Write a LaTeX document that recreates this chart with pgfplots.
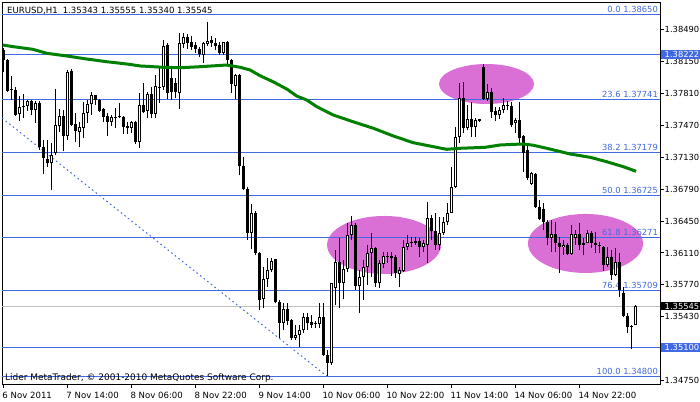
\documentclass[border=0pt]{standalone}
\usepackage{fontspec}
\setmainfont{DejaVu Sans}
\usepackage{pgfplots}
\usepackage{pgfplotstable}
\pgfplotsset{compat=1.18}

\definecolor{fibblue}{RGB}{65,105,225}
\definecolor{ellpink}{RGB}{218,112,214}
\definecolor{magreen}{RGB}{0,128,0}
\definecolor{bidgray}{RGB}{192,192,192}
\newcommand{\mtfont}{\fontsize{8.6}{10}\selectfont}
\newcommand{\scalefont}{\fontsize{8.4}{10}\selectfont}

% EURUSD H1 candles, bar index from 6 Nov 22:00
\pgfplotstableread{
i O H L C
0 1.38270 1.38291 1.38036 1.38164
1 1.38164 1.38174 1.37823 1.37834
2 1.37844 1.37993 1.37738 1.37855
3 1.37844 1.37876 1.37567 1.37578
4 1.37589 1.37780 1.37514 1.37663
5 1.37663 1.37802 1.37546 1.37674
6 1.37674 1.37738 1.37621 1.37727
7 1.37727 1.37738 1.37578 1.37631
8 1.37631 1.37727 1.37493 1.37706
9 1.37706 1.37727 1.37206 1.37238
10 1.37238 1.37312 1.36950 1.37121
11 1.37110 1.37312 1.37025 1.37067
12 1.37067 1.37280 1.36780 1.37153
13 1.37174 1.37855 1.37153 1.37472
14 1.37461 1.37642 1.37397 1.37567
15 1.37567 1.37631 1.37195 1.37355
16 1.37355 1.38057 1.37312 1.38036
17 1.38046 1.38068 1.37461 1.37472
18 1.37482 1.37600 1.37291 1.37408
19 1.37397 1.37504 1.37238 1.37450
20 1.37440 1.37717 1.37333 1.37600
21 1.37600 1.37738 1.37493 1.37695
22 1.37695 1.37823 1.37578 1.37791
23 1.37791 1.37791 1.37685 1.37738
24 1.37738 1.37748 1.37610 1.37621
25 1.37642 1.37653 1.37504 1.37557
26 1.37567 1.37600 1.37355 1.37504
27 1.37504 1.37578 1.37461 1.37557
28 1.37557 1.37653 1.37440 1.37546
29 1.37557 1.37706 1.37546 1.37567
30 1.37557 1.37567 1.37376 1.37450
31 1.37461 1.37504 1.37376 1.37440
32 1.37440 1.37514 1.37387 1.37504
33 1.37504 1.37514 1.37270 1.37291
34 1.37291 1.37812 1.37227 1.37685
35 1.37685 1.37919 1.37600 1.37610
36 1.37621 1.37823 1.37546 1.37802
37 1.37802 1.37876 1.37546 1.37589
38 1.37589 1.38004 1.37546 1.37887
39 1.37876 1.38089 1.37706 1.37866
40 1.37876 1.38376 1.37844 1.38313
41 1.38323 1.38344 1.37748 1.37812
42 1.37972 1.38078 1.37738 1.37823
43 1.37919 1.37972 1.37759 1.37823
44 1.37812 1.38451 1.37642 1.38344
45 1.38334 1.38451 1.38291 1.38408
46 1.38408 1.38440 1.38280 1.38344
47 1.38355 1.38419 1.38270 1.38302
48 1.38323 1.38355 1.38238 1.38280
49 1.38280 1.38302 1.38195 1.38227
50 1.38217 1.38355 1.38132 1.38344
51 1.38334 1.38568 1.38313 1.38366
52 1.38376 1.38419 1.38302 1.38344
53 1.38344 1.38398 1.38270 1.38313
54 1.38323 1.38355 1.38217 1.38238
55 1.38238 1.38355 1.38217 1.38355
56 1.38355 1.38366 1.38121 1.38164
57 1.38164 1.38174 1.37812 1.37908
58 1.37887 1.38014 1.37748 1.38004
59 1.38004 1.38014 1.36940 1.37035
60 1.37035 1.37131 1.36780 1.36791
61 1.36791 1.36812 1.36248 1.36322
62 1.36322 1.36631 1.36152 1.36535
63 1.36535 1.36557 1.36088 1.36110
64 1.36110 1.36120 1.35503 1.35609
65 1.35620 1.35961 1.35524 1.35833
66 1.35833 1.36056 1.35748 1.35929
67 1.35929 1.36056 1.35907 1.36024
68 1.36046 1.36046 1.35577 1.35588
69 1.35588 1.35609 1.35205 1.35365
70 1.35365 1.35577 1.35290 1.35514
71 1.35514 1.35577 1.35343 1.35386
72 1.35397 1.35407 1.35184 1.35205
73 1.35205 1.35343 1.35184 1.35237
74 1.35237 1.35343 1.35109 1.35290
75 1.35290 1.35471 1.35258 1.35429
76 1.35429 1.35471 1.35290 1.35365
77 1.35375 1.35450 1.35311 1.35343
78 1.35365 1.35386 1.35311 1.35354
79 1.35354 1.35577 1.35311 1.35429
80 1.35429 1.35577 1.35013 1.35024
81 1.35024 1.35077 1.34805 1.34939
82 1.34939 1.35790 1.34918 1.35790
83 1.35737 1.36141 1.35556 1.36014
84 1.36014 1.36269 1.35524 1.35790
85 1.35790 1.36035 1.35620 1.35939
86 1.35939 1.36429 1.35907 1.36301
87 1.36301 1.36503 1.36248 1.36408
88 1.36408 1.36429 1.35716 1.35758
89 1.35758 1.35929 1.35471 1.35854
90 1.35854 1.36035 1.35609 1.35961
91 1.35961 1.36195 1.35769 1.36110
92 1.36110 1.36322 1.35854 1.36163
93 1.36163 1.36173 1.35748 1.35790
94 1.35790 1.36035 1.35737 1.36003
95 1.35993 1.36120 1.35950 1.36078
96 1.36078 1.36120 1.36003 1.36067
97 1.36078 1.36120 1.35865 1.36056
98 1.36067 1.36088 1.35844 1.35897
99 1.35886 1.35961 1.35748 1.35929
100 1.35918 1.36248 1.35907 1.36173
101 1.36173 1.36301 1.36141 1.36216
102 1.36216 1.36280 1.36173 1.36227
103 1.36216 1.36280 1.36195 1.36237
104 1.36237 1.36269 1.36067 1.36173
105 1.36173 1.36248 1.36120 1.36216
106 1.36195 1.36652 1.36003 1.36482
107 1.36482 1.36514 1.36248 1.36344
108 1.36344 1.36535 1.36141 1.36195
109 1.36195 1.36493 1.36141 1.36322
110 1.36322 1.36493 1.36301 1.36440
111 1.36440 1.36642 1.36408 1.36535
112 1.36535 1.37025 1.36535 1.36812
113 1.36812 1.37450 1.36801 1.37344
114 1.37344 1.37919 1.37280 1.37759
115 1.37759 1.37929 1.37387 1.37440
116 1.37440 1.37685 1.37418 1.37536
117 1.37536 1.37717 1.37344 1.37450
118 1.37450 1.37546 1.37344 1.37525
119 1.37536 1.37536 1.37504 1.37514
120 1.38089 1.38121 1.37738 1.37748
121 1.37748 1.37908 1.37727 1.37823
122 1.37823 1.37866 1.37546 1.37610
123 1.37621 1.37663 1.37514 1.37578
124 1.37578 1.37663 1.37536 1.37631
125 1.37631 1.37759 1.37600 1.37685
126 1.37685 1.37727 1.37631 1.37674
127 1.37674 1.37717 1.37450 1.37472
128 1.37493 1.37546 1.37387 1.37525
129 1.37525 1.37717 1.37280 1.37333
130 1.37355 1.37365 1.36972 1.37174
131 1.37206 1.37270 1.36886 1.36908
132 1.36844 1.36972 1.36833 1.36961
133 1.36950 1.36961 1.36588 1.36599
134 1.36599 1.36674 1.36461 1.36471
135 1.36578 1.36642 1.36354 1.36440
136 1.36440 1.36461 1.36195 1.36269
137 1.36269 1.36461 1.36120 1.36312
138 1.36312 1.36440 1.36120 1.36216
139 1.36216 1.36280 1.35897 1.36173
140 1.36173 1.36248 1.36088 1.36195
141 1.36195 1.36216 1.36088 1.36099
142 1.36099 1.36408 1.36088 1.36312
143 1.36269 1.36354 1.36195 1.36312
144 1.36312 1.36429 1.36141 1.36195
145 1.36216 1.36269 1.36088 1.36195
146 1.36216 1.36354 1.36216 1.36322
147 1.36322 1.36344 1.36163 1.36216
148 1.36216 1.36333 1.36110 1.36195
149 1.36195 1.36227 1.36110 1.36184
150 1.36173 1.36184 1.35918 1.35982
151 1.35982 1.36173 1.35961 1.36067
152 1.36067 1.36141 1.35822 1.35875
153 1.35875 1.36163 1.35865 1.36014
154 1.36014 1.36110 1.35641 1.35716
155 1.35684 1.35748 1.35429 1.35439
156 1.35439 1.35471 1.35258 1.35322
157 1.35333 1.35343 1.35088 1.35322
158 1.35343 1.35555 1.35340 1.35545
}\candles

% moving average (green)
\pgfplotstableread{
x y
-0.15 1.38323
2.5 1.38305
7.4 1.38277
10.85 1.38235
15.85 1.38206
20.85 1.38174
25.85 1.38145
30.85 1.38121
34.2 1.38100
40 1.38086
44.2 1.38081
49.2 1.38092
55.85 1.38110
59.2 1.38086
61.7 1.38057
64.2 1.37996
67.4 1.37933
70.85 1.37855
73.35 1.37780
75.85 1.37738
78.35 1.37667
82.5 1.37578
87.4 1.37507
92.5 1.37437
97.5 1.37355
102.5 1.37283
107.5 1.37241
110.85 1.37213
114.2 1.37224
120.4 1.37234
124.2 1.37259
130 1.37270
132.5 1.37256
135.85 1.37224
141.7 1.37163
146.7 1.37128
150.85 1.37081
155 1.37028
158.2 1.36979
}\ma

\begin{document}
\begin{tikzpicture}
\fill[white] (0,0) rectangle (700bp,402bp);
\path[use as bounding box] (0,0) rectangle (700bp,402bp);
\begin{axis}[
    at={(2bp,18bp)}, anchor=south west,
    scale only axis, width=658bp, height=381bp,
    xmin=-0.325, xmax=164.175,
    ymin=1.347155, ymax=1.38770,
    clip=false,
    axis line style={black, line width=1bp},
    tick style={black, line width=1bp},
    major tick length=4bp, tick align=outside,
    xtick pos=bottom, ytick pos=right,
    yticklabel pos=right,
    xtick={0,16,...,144},
    xticklabels={6 Nov 2011,7 Nov 14:00,8 Nov 06:00,8 Nov 22:00,9 Nov 14:00,10 Nov 06:00,10 Nov 22:00,11 Nov 14:00,14 Nov 06:00,14 Nov 22:00},
    ytick={1.3475,1.3509,1.3543,1.3577,1.3611,1.3645,1.3679,1.3713,1.3747,1.3781,1.3815,1.3849},
    yticklabels={1.34750,1.35090,1.35430,1.35770,1.36110,1.36450,1.36790,1.37130,1.37470,1.37810,1.38150,1.38490},
    ticklabel style={inner sep=0pt},
    yticklabel style={anchor=west, xshift=0.5bp, font=\scalefont},
    xticklabel style={anchor=north west, xshift=-1bp, yshift=-4bp, font=\mtfont},
]
% highlighted zones
\fill[ellpink] (axis cs:120.8,1.37908) ellipse [x radius=47.5bp, y radius=20bp];
\fill[ellpink] (axis cs:95.2,1.36195) ellipse [x radius=57bp, y radius=29bp];
\fill[ellpink] (axis cs:145.55,1.36211) ellipse [x radius=57.5bp, y radius=29.5bp];

% bid line and horizontal lines
\addplot[bidgray, line width=1bp] coordinates {(-0.325,1.35545) (164.175,1.35545)};
\addplot[fibblue, line width=1bp] coordinates {(-0.325,1.38222) (164.175,1.38222)};
\addplot[fibblue, line width=1bp] coordinates {(-0.325,1.35100) (164.175,1.35100)};

% fibonacci levels
\foreach \lv/\txt in {1.38650/0.0 1.38650, 1.37741/23.6 1.37741, 1.37179/38.2 1.37179, 1.36725/50.0 1.36725, 1.36271/61.8 1.36271, 1.35709/76.4 1.35709, 1.34800/100.0 1.34800}{
  \edef\temp{\noexpand\addplot[fibblue, line width=1bp] coordinates {(-0.325,\lv) (164.175,\lv)};
    \noexpand\node[anchor=base east, text=fibblue, inner sep=0pt, font=\noexpand\scalefont] at ([yshift=2bp]axis cs:163.7,\lv) {\txt};}
  \temp
}
\addplot[fibblue, line width=1bp, dash pattern=on 1.6bp off 3bp] coordinates {(-0.325,1.37546) (80.85,1.34800)};

% candles: wicks, bodies, hollow bull bodies
\addplot[black, line width=1bp, quiver={u=0, v={\thisrow{H}-\thisrow{L}}}] table[x=i, y=L] {\candles};
\addplot[black, line width=3.4bp, quiver={u=0, v={abs(\thisrow{C}-\thisrow{O})}}] table[x=i, y expr={min(\thisrow{O},\thisrow{C})}] {\candles};
\addplot[white, line width=1.4bp, quiver={u=0, v={max(\thisrow{C}-\thisrow{O}-0.00021,0)}}] table[x=i, y expr={\thisrow{O}+0.000106}] {\candles};

% moving average
\addplot[magreen, line width=3bp, line join=round] table[x=x, y=y] {\ma};

\coordinate (lvA) at (axis cs:164.175,1.38222);
\coordinate (lvB) at (axis cs:164.175,1.35545);
\coordinate (lvC) at (axis cs:164.175,1.35100);
\end{axis}

% price boxes on the right scale
\fill[fibblue] ([xshift=1bp,yshift=-4.6bp]lvA) rectangle ([xshift=42bp,yshift=4.6bp]lvA);
\node[anchor=west, text=white, inner sep=0pt, font=\scalefont] at ([xshift=4.5bp]lvA) {1.38222};
\fill[black] ([xshift=1bp,yshift=-4.2bp]lvB) rectangle ([xshift=42bp,yshift=4.2bp]lvB);
\node[anchor=west, text=white, inner sep=0pt, font=\scalefont] at ([xshift=4.5bp]lvB) {1.35545};
\fill[fibblue] ([xshift=1bp,yshift=-4.4bp]lvC) rectangle ([xshift=42bp,yshift=4.4bp]lvC);
\node[anchor=west, text=white, inner sep=0pt, font=\scalefont] at ([xshift=4.5bp]lvC) {1.35100};

\node[anchor=base west, inner sep=0pt, font=\mtfont] at (7bp,388.7bp) {EURUSD,H1\hspace{5bp}1.35343 1.35555 1.35340 1.35545};
\node[anchor=base west, inner sep=0pt, font=\fontsize{9}{10}\selectfont] at (5bp,22bp) {Lider MetaTrader, © 2001-2010 MetaQuotes Software Corp.};
\end{tikzpicture}
\end{document}
